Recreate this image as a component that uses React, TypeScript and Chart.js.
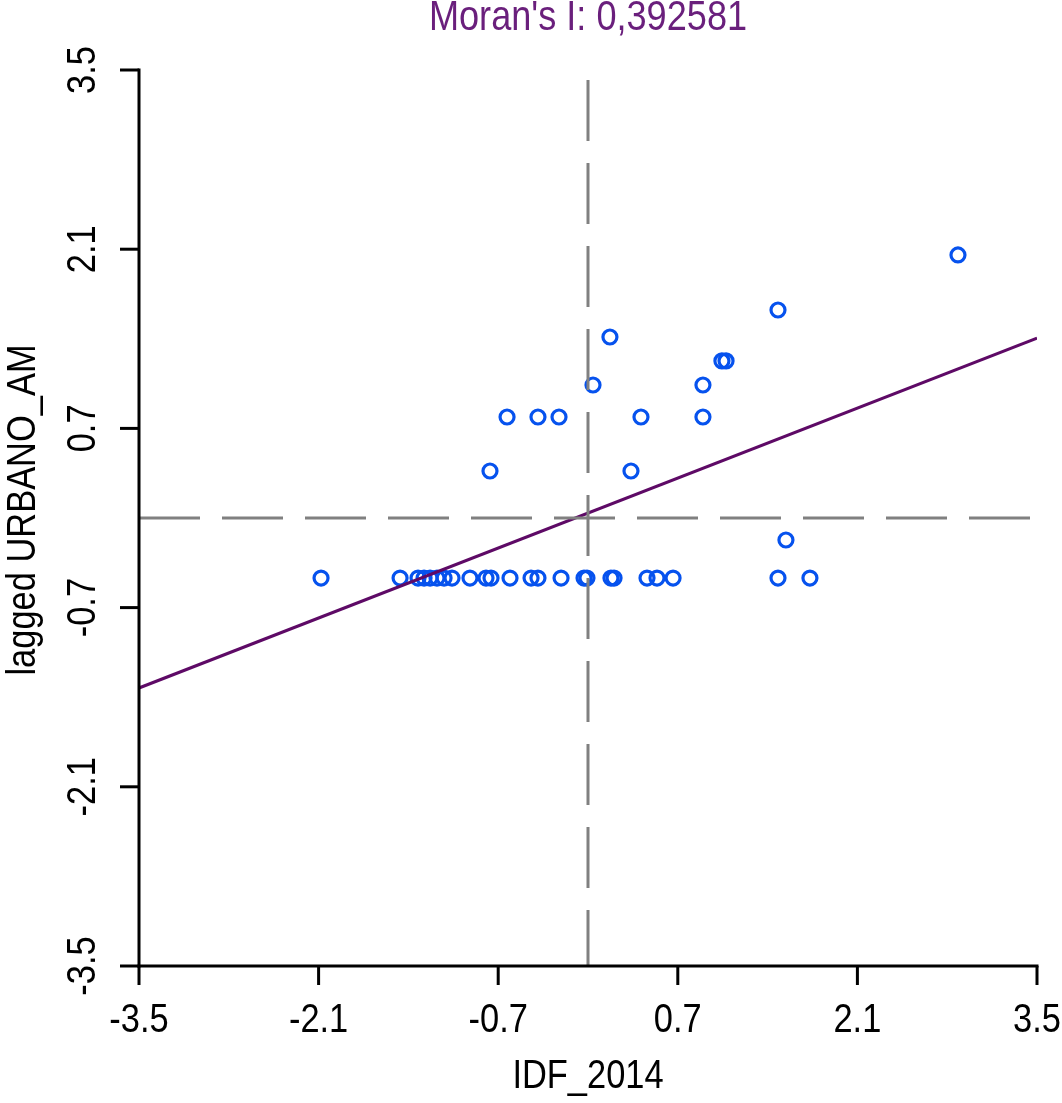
import React, { useEffect, useRef } from "react";
import { Chart, registerables } from "chart.js";

Chart.register(...registerables);

const TITLE = "Moran's I: 0,392581";
const X_TITLE = "IDF_2014";
const Y_TITLE = "lagged URBANO_AM";

const xTicks = [-3.5, -2.1, -0.7, 0.7, 2.1, 3.5];
const yTicks = [-3.5, -2.1, -0.7, 0.7, 2.1, 3.5];
const tickLabels = ["-3.5", "-2.1", "-0.7", "0.7", "2.1", "3.5"];

const pointX = [
  -2.081, -1.465, -1.325, -1.278, -1.231, -1.177, -1.122, -1.06, -0.92, -0.795,
  -0.756, -0.608, -0.444, -0.39, -0.21, -0.031, -0.008, 0.179, 0.203, 0.46,
  0.538, 0.663, 1.481, 1.73,
  2.884, 1.481, 0.171, 1.044, 1.076, 0.039, 0.896, -0.631, -0.39, -0.226,
  0.413, 0.896, -0.764, 0.335, 1.543,
];
const pointY = [
  -0.469, -0.469, -0.469, -0.469, -0.469, -0.469, -0.469, -0.469, -0.469, -0.469,
  -0.469, -0.469, -0.469, -0.469, -0.469, -0.469, -0.469, -0.469, -0.469, -0.469,
  -0.469, -0.469, -0.469, -0.469,
  2.055, 1.625, 1.414, 1.227, 1.227, 1.039, 1.039, 0.789, 0.789, 0.789,
  0.789, 0.789, 0.367, 0.367, -0.172,
];

const regX = [-3.5, 3.5];
const regY = [-1.328, 1.406];

const FONT = "'Liberation Sans', Arial, sans-serif";
const SQUEEZE = 0.84;

function drawText(ctx: any, text: string, x: number, y: number, rot: number, size: number, color: string) {
  ctx.save();
  ctx.translate(x, y);
  if (rot) ctx.rotate(rot);
  ctx.scale(SQUEEZE, 1);
  ctx.fillStyle = color;
  ctx.font = `${size}px ${FONT}`;
  ctx.textAlign = "center";
  ctx.textBaseline = "middle";
  ctx.fillText(text, 0, 0);
  ctx.restore();
}

const axesPlugin = {
  id: "rAxes",
  afterDraw(chart: any) {
    const ctx = chart.ctx;
    const xs = chart.scales.x;
    const ys = chart.scales.y;
    const ca = chart.chartArea;
    ctx.save();
    ctx.strokeStyle = "#000";
    ctx.lineWidth = 3;
    ctx.lineCap = "butt";
    const x0 = xs.getPixelForValue(xTicks[0]);
    const x1 = xs.getPixelForValue(xTicks[xTicks.length - 1]);
    ctx.beginPath();
    ctx.moveTo(x0 - 1.5, ca.bottom);
    ctx.lineTo(x1 + 1.5, ca.bottom);
    ctx.stroke();
    xTicks.forEach((v) => {
      const p = xs.getPixelForValue(v);
      ctx.beginPath();
      ctx.moveTo(p, ca.bottom);
      ctx.lineTo(p, ca.bottom + 19);
      ctx.stroke();
    });
    const y0 = ys.getPixelForValue(yTicks[0]);
    const y1 = ys.getPixelForValue(yTicks[yTicks.length - 1]);
    ctx.beginPath();
    ctx.moveTo(ca.left, y0 + 1.5);
    ctx.lineTo(ca.left, y1 - 1.5);
    ctx.stroke();
    yTicks.forEach((v) => {
      const p = ys.getPixelForValue(v);
      ctx.beginPath();
      ctx.moveTo(ca.left, p);
      ctx.lineTo(ca.left - 19, p);
      ctx.stroke();
    });
    xTicks.forEach((v, i) => {
      drawText(ctx, tickLabels[i], xs.getPixelForValue(v), 1021, 0, 41, "#000");
    });
    yTicks.forEach((v, i) => {
      drawText(ctx, tickLabels[i], 84, ys.getPixelForValue(v), -Math.PI / 2, 41, "#000");
    });
    drawText(ctx, X_TITLE, (ca.left + ca.right) / 2, 1077, 0, 41, "#000");
    drawText(ctx, Y_TITLE, 24, 510, -Math.PI / 2, 41, "#000");
    drawText(ctx, TITLE, (ca.left + ca.right) / 2, 18, 0, 43, "#6a1f7c");
    ctx.restore();
  },
};

export default function App() {
  const ref = useRef<HTMLCanvasElement>(null);
  useEffect(() => {
    document.body.style.margin = "0";
    document.body.style.overflow = "hidden";
    const points = pointX.map((x, i) => ({ x, y: pointY[i] }));
    const reg = regX.map((x, i) => ({ x, y: regY[i] }));
    const chart = new Chart(ref.current as HTMLCanvasElement, {
      type: "scatter",
      data: {
        datasets: [
          {
            type: "line",
            data: [
              { x: 0, y: 3.5 },
              { x: 0, y: -3.5 },
            ],
            borderColor: "#808080",
            borderWidth: 3,
            borderDash: [61, 22],
            borderDashOffset: 73,
            pointRadius: 0,
            order: 0,
          } as any,
          {
            type: "line",
            data: [
              { x: -3.5, y: 0 },
              { x: 3.5, y: 0 },
            ],
            borderColor: "#808080",
            borderWidth: 3,
            borderDash: [61, 22],
            pointRadius: 0,
            order: 1,
          } as any,
          {
            type: "line",
            data: reg,
            borderColor: "#5e0a66",
            borderWidth: 3,
            pointRadius: 0,
            order: 2,
          } as any,
          {
            data: points,
            pointStyle: "circle",
            pointRadius: 7,
            pointBorderWidth: 3.2,
            borderColor: "#0652ee",
            backgroundColor: "rgba(0,0,0,0)",
            pointBackgroundColor: "rgba(0,0,0,0)",
            pointBorderColor: "#0652ee",
            order: 3,
          } as any,
        ],
      },
      options: {
        animation: false,
        responsive: false,
        layout: { padding: { left: 139, right: 25, top: 70, bottom: 137 } },
        plugins: { legend: { display: false }, tooltip: { enabled: false }, title: { display: false } },
        scales: {
          x: { type: "linear", min: -3.5, max: 3.5, display: false },
          y: { type: "linear", min: -3.5, max: 3.5, display: false },
        },
      } as any,
      plugins: [axesPlugin],
    });
    return () => chart.destroy();
  }, []);
  return (
    <div style={{ position: "absolute", left: 0, top: 0, width: 1062, height: 1103, background: "#fff" }}>
      <canvas ref={ref} width={1062} height={1103} style={{ display: "block" }} />
    </div>
  );
}
